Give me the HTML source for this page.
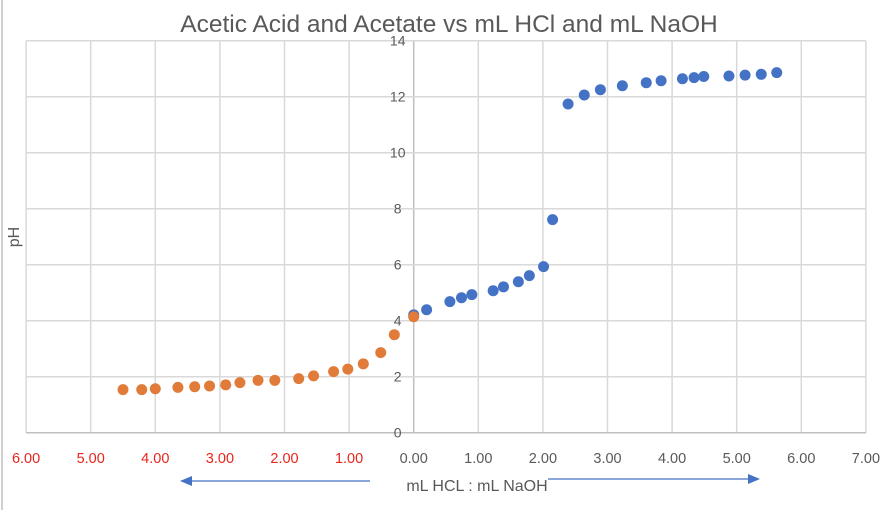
<!DOCTYPE html>
<html><head><meta charset="utf-8"><style>
body{margin:0;background:#fff;width:890px;height:510px;overflow:hidden;font-family:"Liberation Sans",sans-serif}
</style></head><body>
<svg id="chart" width="890" height="510" xmlns="http://www.w3.org/2000/svg" font-family="Liberation Sans, sans-serif">
<line x1="2" y1="0" x2="2" y2="510" stroke="#d0d0d0" stroke-width="2"/>
<text x="449" y="32" text-anchor="middle" font-size="24.5" fill="#595959">Acetic Acid and Acetate vs mL HCl and mL NaOH</text>
<g id="grid"></g><g id="ticks"></g><g id="marks"></g>
<text x="477" y="491" text-anchor="middle" font-size="16" fill="#595959">mL HCL :  mL NaOH</text>
<text transform="translate(19,237) rotate(-90)" text-anchor="middle" font-size="16" fill="#595959">pH</text>
<g><line x1="370" y1="481" x2="190" y2="481" stroke="#4472C4" stroke-width="1.2"/><polygon points="180,481 192,476 192,486" fill="#4472C4"/></g>
<g><line x1="548" y1="479" x2="750" y2="479" stroke="#4472C4" stroke-width="1.2"/><polygon points="760,479 748,474 748,484" fill="#4472C4"/></g>
</svg>
<script>
const xTicks=[-6,-5,-4,-3,-2,-1,0,1,2,3,4,5,6,7];
const yTicks=[0,2,4,6,8,10,12,14];
const naohML=[0,0.20,0.56,0.74,0.90,1.23,1.39,1.62,1.79,2.01,2.15,2.39,2.64,2.89,3.23,3.60,3.83,4.16,4.34,4.49,4.88,5.13,5.38,5.62];
const naohPH=[4.21,4.39,4.68,4.82,4.93,5.07,5.21,5.39,5.61,5.93,7.61,11.74,12.06,12.25,12.39,12.5,12.57,12.64,12.68,12.72,12.74,12.77,12.8,12.86];
const hclML=[4.50,4.21,4.00,3.65,3.39,3.16,2.91,2.69,2.41,2.15,1.78,1.55,1.24,1.02,0.78,0.51,0.30,0];
const hclPH=[1.54,1.54,1.57,1.62,1.64,1.67,1.71,1.79,1.87,1.87,1.93,2.03,2.18,2.27,2.46,2.86,3.5,4.14];
const X=v=>413.7+v*64.6, Y=v=>432.7-v*28;
const NS="http://www.w3.org/2000/svg";
function mk(t,a,p){const e=document.createElementNS(NS,t);for(const k in a)e.setAttribute(k,a[k]);document.getElementById(p).appendChild(e);return e;}
xTicks.forEach(v=>{
 const l=mk('line',{x1:X(v),x2:X(v),y1:Y(14),y2:Y(0),stroke:v===0?'#bfbfbf':'#d9d9d9','stroke-width':1.5},'grid');
 
 
 const t=mk('text',{x:X(v),y:463,'text-anchor':'middle','font-size':14.5,fill:v<0?'#e8251d':'#595959'},'ticks');
 t.textContent=Math.abs(v).toFixed(2);
 
 
});
yTicks.forEach(v=>{
 const l=mk('line',{x1:X(-6),x2:X(7),y1:Y(v),y2:Y(v),stroke:v===0?'#bfbfbf':'#d9d9d9','stroke-width':1.5},'grid');
 
 
 const t=mk('text',{x:X(0)-16,y:Y(v)+5,'text-anchor':'middle','font-size':14,fill:'#595959'},'ticks');
 t.textContent=v;
 
 
});
naohML.forEach((v,i)=>{
 const c=mk('circle',{cx:X(v),cy:Y(naohPH[i]),r:5.5,fill:'#4472C4'},'marks');
 
 
});
hclML.forEach((v,i)=>{
 const c=mk('circle',{cx:X(-v),cy:Y(hclPH[i]),r:5.5,fill:'#E07B39'},'marks');
 
 
});
</script>
</body></html>
